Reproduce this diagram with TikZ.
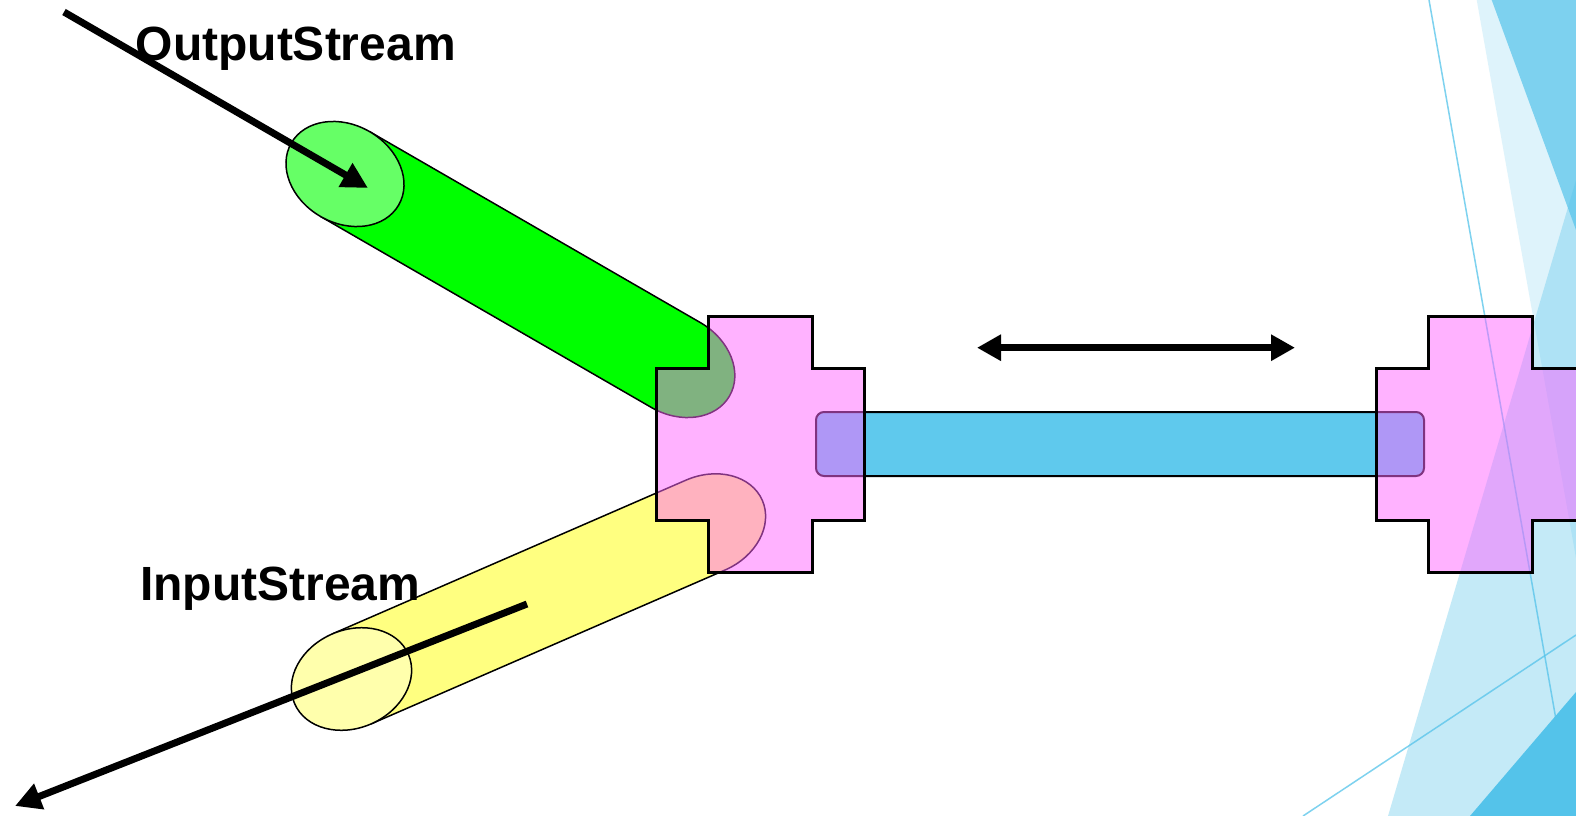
\documentclass[tikz,border=0pt]{standalone}
\usepackage{fontspec}
\setmainfont{Liberation Sans}
\usetikzlibrary{arrows.meta}

\definecolor{facet}{RGB}{84,195,234}
\definecolor{crossfill}{RGB}{255,102,255}
\definecolor{barblue}{RGB}{95,201,237}
\definecolor{tubegreen}{RGB}{0,255,0}
\definecolor{capgreen}{RGB}{102,255,102}
\definecolor{tubeyellow}{RGB}{255,255,128}
\definecolor{capyellow}{RGB}{255,255,172}

\tikzset{
  facetline/.style={draw=facet, draw opacity=0.75, line width=1.5pt},
  facetpane/.style={fill=facet, fill opacity=#1},
  plug/.style={draw=black, line width=3pt, fill=crossfill, fill opacity=0.5, line join=miter},
  tubeedge/.style={draw=black, line width=1.5pt},
  flow/.style={line width=7pt, -{Triangle[length=26pt,width=26pt]}},
  duplex/.style={line width=7pt, {Triangle[length=24pt,width=25pt]}-{Triangle[length=24pt,width=25pt]}},
  streamlabel/.style={font=\bfseries\fontsize{48}{57}\selectfont, inner sep=0pt, anchor=base west},
}

\begin{document}
\begin{tikzpicture}[x=1pt, y=-1pt]
  \useasboundingbox (0,0) rectangle (1576,816);
  \fill[white] (0,0) rectangle (1576,816);
  \clip (0,0) rectangle (1576,816);

  % theme facets on the right edge
  \path[facetpane=0.19] (1476.7,0) -- (1700,0) -- (1700,1255) -- cycle;
  \path[facetpane=0.70] (1491.7,0) -- (1576,230) -- (1700,230) -- (1700,0) -- cycle;
  \path[facetpane=0.34] (1579,170) -- (1388,816) -- (1700,816) -- (1700,170) -- cycle;
  \path[facetpane=1] (1576,692) -- (1470,816) -- (1700,816) -- (1700,692) -- cycle;
  \path[facetline] (1429,0) -- (1573,816);
  \path[facetline] (1303,816) -- (1576,635);

  % output tube (green)
  \begin{scope}[shift={(345,174)}, rotate=-30]
    \path[fill=tubegreen] (0,-49) -- (382,-49)
      .. controls (416.24,-49) and (444,-27.06) .. (444,0)
      .. controls (444,27.06) and (416.24,49) .. (382,49) -- (0,49) -- cycle;
    \draw[tubeedge] (0,-49) -- (382,-49)
      .. controls (416.24,-49) and (444,-27.06) .. (444,0)
      .. controls (444,27.06) and (416.24,49) .. (382,49) -- (0,49);
    \draw[tubeedge, fill=capgreen] (0,0) ellipse [x radius=62, y radius=49];
  \end{scope}

  % input tube (yellow)
  \begin{scope}[shift={(351.5,679)}, rotate=23.5]
    \path[fill=tubeyellow] (0,-49) -- (386,-49)
      .. controls (420.24,-49) and (448,-27.06) .. (448,0)
      .. controls (448,27.06) and (420.24,49) .. (386,49) -- (0,49) -- cycle;
    \draw[tubeedge] (0,-49) -- (386,-49)
      .. controls (420.24,-49) and (448,-27.06) .. (448,0)
      .. controls (448,27.06) and (420.24,49) .. (386,49) -- (0,49);
    \draw[tubeedge, fill=capyellow] (0,0) ellipse [x radius=62, y radius=49];
  \end{scope}

  % connection bar
  \draw[line width=2pt, fill=barblue, rounded corners=8pt] (816,412) rectangle (1424,476);

  % the two plugs
  \foreach \dx in {0,720} {
    \path[plug, xshift=\dx pt]
      (708,316) -- (812,316) -- (812,368) -- (864,368) -- (864,520) -- (812,520)
      -- (812,572) -- (708,572) -- (708,520) -- (656,520) -- (656,368) -- (708,368) -- cycle;
  }

  % data flow arrows
  \coordinate (osStart) at (64,12);
  \coordinate (osEnd) at (368,188);
  \coordinate (isStart) at (527,604);
  \coordinate (isEnd) at (15,806);
  \coordinate (lnLeft) at (977,347.7);
  \coordinate (lnRight) at (1295,347.7);
  \draw[flow] (osStart) -- (osEnd);
  \draw[flow] (isStart) -- (isEnd);
  \draw[duplex] (lnLeft) -- (lnRight);

  % labels
  \node[streamlabel] (outLabel) at (135.5,60) {OutputStream};
  \node[streamlabel] (inLabel) at (140,600.5) {InputStream};
\end{tikzpicture}
\end{document}
